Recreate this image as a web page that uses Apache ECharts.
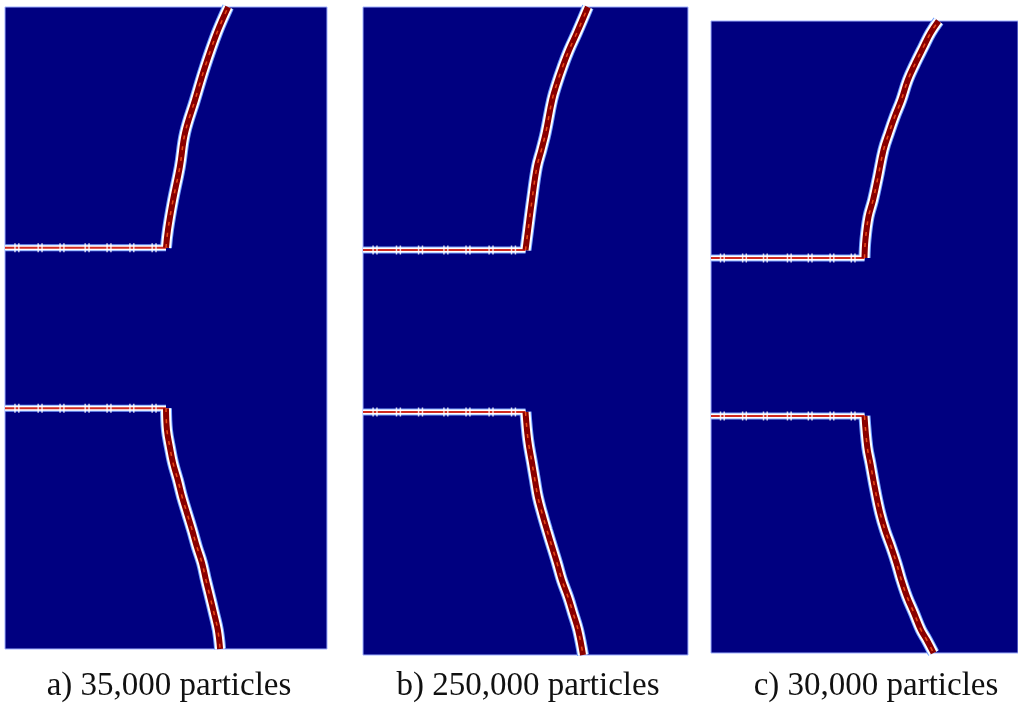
<!DOCTYPE html>
<html>
<head>
<meta charset="utf-8">
<script src="https://cdn.jsdelivr.net/npm/echarts@6/dist/echarts.min.js"></script>
<style>html,body{margin:0;padding:0;background:#fff}#c{width:1018px;height:706px}</style>
</head>
<body>
<div id="c"></div>
<script>
// ---- data (domain units: x 0..1, y 0..2) ----
const panelLabels = ['a) 35,000 particles', 'b) 250,000 particles', 'c) 30,000 particles'];
const notchLevels = [1.25, 0.75];
const notchTip = 0.5;
const notchTicks = [0.037, 0.109, 0.177, 0.255, 0.323, 0.394, 0.463];

const crackA_up = [[0.5,1.25],[0.506,1.305],[0.522,1.399],[0.543,1.502],[0.559,1.607],[0.590,1.710],[0.621,1.813],[0.658,1.919],[0.693,2.0]];
const crackA_down = [[0.5,0.75],[0.503,0.682],[0.512,0.629],[0.522,0.579],[0.537,0.526],[0.550,0.474],[0.565,0.424],[0.581,0.371],[0.596,0.318],[0.612,0.268],[0.624,0.215],[0.637,0.162],[0.649,0.112],[0.661,0.059],[0.668,0.0]];

const crackB_up = [[0.5,1.25],[0.508,1.312],[0.520,1.404],[0.535,1.506],[0.549,1.559],[0.562,1.611],[0.582,1.713],[0.597,1.765],[0.614,1.815],[0.634,1.867],[0.658,1.920],[0.692,2.0]];
const crackB_down = [[0.5,0.75],[0.508,0.664],[0.520,0.593],[0.529,0.540],[0.538,0.488],[0.551,0.438],[0.566,0.386],[0.582,0.333],[0.597,0.284],[0.612,0.231],[0.631,0.179],[0.646,0.130],[0.662,0.077],[0.677,0.0]];

const crackC_up = [[0.5,1.25],[0.503,1.307],[0.513,1.380],[0.528,1.434],[0.544,1.506],[0.562,1.592],[0.580,1.646],[0.598,1.696],[0.620,1.750],[0.641,1.813],[0.666,1.867],[0.692,1.918],[0.715,1.962],[0.741,2.0]];
const crackC_down = [[0.5,0.75],[0.509,0.652],[0.519,0.601],[0.535,0.516],[0.551,0.443],[0.567,0.389],[0.587,0.335],[0.604,0.285],[0.620,0.231],[0.639,0.177],[0.661,0.127],[0.684,0.073],[0.703,0.041],[0.725,0.0]];

const cracks = [[crackA_up, crackA_down], [crackB_up, crackB_down], [crackC_up, crackC_down]];

// ---- layout ----
const grids = [
  {left: 5, top: 7, width: 322, height: 642},
  {left: 363, top: 7, width: 325, height: 648},
  {left: 711, top: 21, width: 316, height: 632}
];
const labelCenters = [169, 528, 876];

const option = {
  animation: false,
  backgroundColor: '#ffffff',
  grid: grids.map(g => Object.assign({show: true, backgroundColor: '#000080', borderColor: '#9fb0ff', borderWidth: 1}, g)),
  xAxis: grids.map((g, i) => ({type: 'value', gridIndex: i, min: 0, max: 1, show: false})),
  yAxis: grids.map((g, i) => ({type: 'value', gridIndex: i, min: 0, max: 2, show: false})),
  series: [],
  graphic: panelLabels.map((t, i) => ({
    type: 'text', x: labelCenters[i], y: 686,
    style: {text: t, fill: '#111', font: '33px "Liberation Serif", serif', textAlign: 'center', textVerticalAlign: 'middle'}
  }))
};

grids.forEach((g, i) => {
  const lineLayer = (data, color, width, z, smooth) => ({
    type: 'line', xAxisIndex: i, yAxisIndex: i, data: data, symbol: 'none', silent: true,
    smooth: smooth || false,
    lineStyle: {color: color, width: width}, z: z, clip: true
  });
  // notches
  notchLevels.forEach(lv => {
    const d = [[0, lv], [notchTip, lv]];
    option.series.push(lineLayer(d, '#7fa7ff', 7, 2));
    option.series.push(lineLayer(d, '#ffffff', 5, 3));
    option.series.push(lineLayer(d, '#d02a20', 2, 4));
    const ticks = [];
    notchTicks.forEach(tx => { ticks.push([tx - 0.006, lv]); ticks.push([tx + 0.006, lv]); });
    option.series.push({
      type: 'scatter', xAxisIndex: i, yAxisIndex: i, data: ticks, symbol: 'rect', symbolSize: [1.5, 9],
      itemStyle: {color: '#ffffff'}, silent: true, z: 5
    });
  });
  // cracks
  cracks[i].forEach(c => {
    option.series.push(lineLayer(c, '#6f9fff', 12, 2, 0.4));
    option.series.push(lineLayer(c, '#ffffff', 10, 3, 0.4));
    option.series.push(lineLayer(c, '#8a0000', 6, 4, 0.4));
    const s = lineLayer(c, '#e84a18', 1.5, 5, 0.4);
    s.lineStyle.type = [4, 7];
    option.series.push(s);
  });
});

const chart = echarts.init(document.getElementById('c'), null, {renderer: 'canvas'});
chart.setOption(option);
</script>
</body>
</html>
